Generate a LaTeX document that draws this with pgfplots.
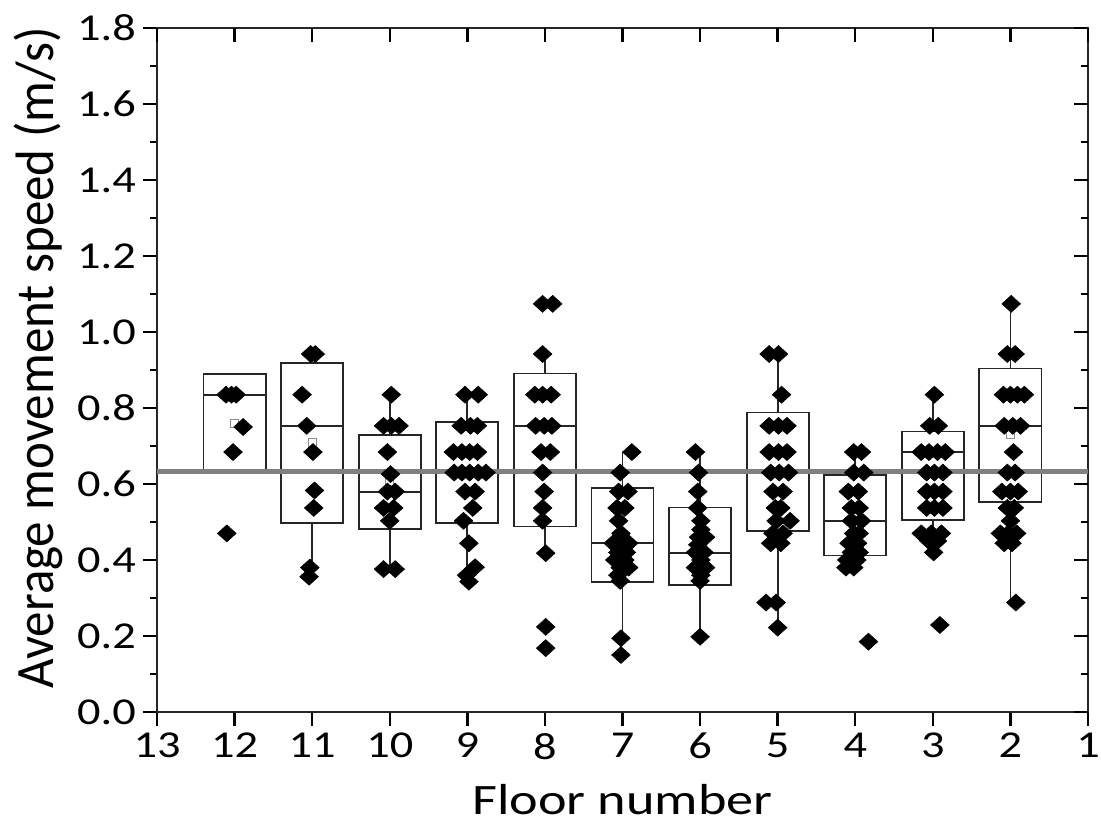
\documentclass[border=0pt]{standalone}
\usepackage{fontspec}
\setmainfont{Carlito}
\newfontfamily\widefont{Carlito}[FakeStretch=1.22]
\newfontfamily\widerfont{Carlito}[FakeStretch=1.25]
\usepackage{graphicx}
\usepackage{pgfplots}
\pgfplotsset{compat=1.18}
\usepgfplotslibrary{statistics}
\begin{document}
\begin{tikzpicture}
\pgfplotsset{
  boxst/.style={draw=black!85, line width=0.9pt, solid, mark=none},
  dia/.style={only marks, mark=square*, mark size=3.0pt, mark options={xscale=1.1, rotate=45, fill=black, draw=black, line width=0.3pt}},
}
\begin{axis}[
  scale only axis, width=465.5pt, height=342pt,
  xmin=0, xmax=12, ymin=0, ymax=1.8,
  boxplot/draw direction=y,
  xtick={0,1,2,3,4,5,6,7,8,9,10,11,12},
  xticklabels={13,12,11,10,9,8,7,6,5,4,3,2,1},
  ytick={0,0.2,0.4,0.6,0.8,1.0,1.2,1.4,1.6,1.8},
  minor y tick num=1,
  yticklabel style={/pgf/number format/.cd, fixed, fixed zerofill, precision=1},
  /pgf/number format/assume math mode=true,
  tick align=outside, xtick pos=bottom, ytick pos=left,
  major tick length=7pt, minor tick length=3.5pt,
  every tick/.style={black, line width=1.2pt},
  axis line style={line width=1.3pt, black!85},
  tick label style={font=\widefont\fontsize{19}{22}\selectfont},
  every axis x label/.style={at={(axis description cs:0.5,0)}, anchor=base, yshift=-51.5pt, font=\widerfont\fontsize{21.7}{24}\selectfont},
  every axis y label/.style={at={(axis description cs:0,0.5)}, anchor=center, xshift=-59.5pt, yshift=6pt, rotate=90, font=\fontsize{25.5}{28}\selectfont},
  xlabel={Floor number},
  ylabel={\scalebox{1}[1.06]{Average movement speed (m/s)}},
  clip=false,
]
% boxes
\addplot[boxst, boxplot prepared={draw position=1, lower whisker=0.63, lower quartile=0.63, median=0.835, upper quartile=0.889, upper whisker=0.889, box extend=0.8, whisker extend=0}] coordinates {};
\addplot[boxst, boxplot prepared={draw position=2, lower whisker=0.37, lower quartile=0.497, median=0.753, upper quartile=0.919, upper whisker=0.942, box extend=0.8, whisker extend=0}] coordinates {};
\addplot[boxst, boxplot prepared={draw position=3, lower whisker=0.376, lower quartile=0.482, median=0.578, upper quartile=0.729, upper whisker=0.835, box extend=0.8, whisker extend=0}] coordinates {};
\addplot[boxst, boxplot prepared={draw position=4, lower whisker=0.343, lower quartile=0.497, median=0.63, upper quartile=0.764, upper whisker=0.835, box extend=0.8, whisker extend=0}] coordinates {};
\addplot[boxst, boxplot prepared={draw position=5, lower whisker=0.418, lower quartile=0.488, median=0.753, upper quartile=0.891, upper whisker=0.942, box extend=0.8, whisker extend=0}] coordinates {};
\addplot[boxst, boxplot prepared={draw position=6, lower whisker=0.194, lower quartile=0.343, median=0.444, upper quartile=0.589, upper whisker=0.684, box extend=0.8, whisker extend=0}] coordinates {};
\addplot[boxst, boxplot prepared={draw position=7, lower whisker=0.198, lower quartile=0.334, median=0.419, upper quartile=0.538, upper whisker=0.684, box extend=0.8, whisker extend=0}] coordinates {};
\addplot[boxst, boxplot prepared={draw position=8, lower whisker=0.222, lower quartile=0.477, median=0.63, upper quartile=0.788, upper whisker=0.942, box extend=0.8, whisker extend=0}] coordinates {};
\addplot[boxst, boxplot prepared={draw position=9, lower whisker=0.38, lower quartile=0.412, median=0.503, upper quartile=0.624, upper whisker=0.684, box extend=0.8, whisker extend=0}] coordinates {};
\addplot[boxst, boxplot prepared={draw position=10, lower whisker=0.42, lower quartile=0.505, median=0.684, upper quartile=0.738, upper whisker=0.835, box extend=0.8, whisker extend=0}] coordinates {};
\addplot[boxst, boxplot prepared={draw position=11, lower whisker=0.288, lower quartile=0.553, median=0.753, upper quartile=0.904, upper whisker=1.074, box extend=0.8, whisker extend=0}] coordinates {};
% reference line
\addplot[black!50, line width=2.6pt, forget plot] coordinates {(0,0.632) (12,0.632)};
% means
\addplot[only marks, mark=square, mark size=2pt, mark options={draw=black!45, line width=0.5pt}] coordinates {(1.0,0.76) (2.0,0.709) (3.0,0.606) (11.0,0.729)};
% floor 12
\addplot[dia] coordinates {(0.89,0.835)(0.96,0.835)(1.02,0.835)(1.11,0.75)(0.98,0.684)(0.90,0.47)};
% floor 11
\addplot[dia] coordinates {(1.98,0.942)(2.04,0.942)(1.87,0.835)(1.93,0.753)(2.01,0.684)(2.03,0.583)(2.02,0.537)(1.97,0.38)(1.96,0.356)};
% floor 10
\addplot[dia] coordinates {(3.02,0.835)(2.92,0.753)(3.02,0.753)(3.12,0.753)(2.97,0.684)(3.01,0.626)(2.97,0.58)(3.07,0.58)(2.92,0.537)(3.05,0.537)(3.00,0.503)(2.92,0.376)(3.07,0.376)};
% floor 9
\addplot[dia] coordinates {(3.97,0.835)(4.14,0.835)(3.92,0.753)(4.04,0.753)(4.13,0.753)(3.82,0.684)(3.93,0.684)(4.03,0.684)(4.13,0.684)(3.83,0.63)(3.93,0.63)(4.03,0.63)(4.14,0.63)(4.24,0.63)(3.97,0.58)(4.10,0.58)(4.07,0.537)(3.95,0.503)(4.02,0.444)(4.10,0.381)(3.99,0.36)(4.02,0.343)};
% floor 8
\addplot[dia] coordinates {(4.97,1.074)(5.10,1.074)(4.97,0.942)(4.87,0.835)(4.97,0.835)(5.08,0.835)(4.88,0.753)(4.99,0.753)(5.09,0.753)(4.95,0.684)(5.07,0.684)(4.97,0.63)(4.99,0.58)(4.97,0.537)(4.97,0.503)(5.01,0.418)(5.01,0.224)(5.01,0.168)};
% floor 7
\addplot[dia] coordinates {(6.12,0.684)(5.97,0.63)(5.95,0.58)(6.07,0.58)(5.93,0.537)(6.03,0.537)(5.95,0.503)(5.98,0.47)(5.88,0.444)(5.98,0.444)(6.08,0.444)(5.94,0.42)(6.05,0.42)(5.90,0.40)(6.03,0.40)(5.97,0.38)(6.08,0.38)(5.94,0.36)(5.97,0.345)(5.98,0.194)(5.98,0.15)};
% floor 6
\addplot[dia] coordinates {(6.94,0.684)(6.98,0.63)(6.97,0.58)(6.97,0.537)(7.01,0.503)(7.01,0.48)(6.98,0.46)(7.07,0.46)(6.97,0.44)(6.94,0.42)(7.05,0.42)(7.01,0.40)(6.94,0.38)(7.07,0.38)(7.01,0.36)(7.00,0.345)(7.00,0.198)};
% floor 5
\addplot[dia] coordinates {(7.89,0.942)(8.01,0.942)(8.05,0.835)(7.89,0.753)(8.01,0.753)(8.12,0.753)(7.89,0.684)(8.01,0.684)(8.12,0.684)(7.91,0.63)(8.02,0.63)(8.14,0.63)(7.94,0.58)(8.07,0.58)(7.97,0.537)(8.04,0.537)(7.98,0.503)(8.16,0.503)(7.94,0.47)(8.07,0.47)(7.91,0.444)(8.04,0.444)(7.85,0.288)(7.98,0.288)(8.00,0.222)};
% floor 4
\addplot[dia] coordinates {(8.98,0.684)(9.08,0.684)(8.98,0.63)(9.11,0.63)(8.91,0.58)(9.04,0.58)(8.95,0.537)(9.05,0.537)(8.95,0.503)(9.08,0.503)(8.98,0.47)(9.05,0.47)(8.92,0.444)(9.03,0.444)(8.95,0.42)(9.05,0.42)(8.89,0.40)(9.02,0.40)(8.88,0.38)(8.98,0.38)(9.17,0.185)};
% floor 3
\addplot[dia] coordinates {(10.02,0.835)(9.96,0.753)(10.07,0.753)(9.85,0.684)(9.95,0.684)(10.06,0.684)(10.16,0.684)(9.92,0.63)(10.02,0.63)(10.13,0.63)(9.92,0.58)(10.02,0.58)(10.13,0.58)(9.92,0.537)(10.02,0.537)(10.13,0.537)(9.85,0.47)(9.98,0.47)(10.11,0.47)(9.95,0.45)(10.06,0.45)(10.01,0.42)(10.09,0.229)};
% floor 2
\addplot[dia] coordinates {(11.01,1.074)(10.96,0.942)(11.06,0.942)(10.91,0.835)(11.00,0.835)(11.09,0.835)(11.18,0.835)(10.92,0.753)(11.03,0.753)(11.13,0.753)(11.04,0.684)(10.96,0.63)(11.06,0.63)(10.89,0.58)(11.00,0.58)(11.10,0.58)(10.96,0.537)(11.05,0.537)(11.00,0.503)(10.87,0.47)(10.97,0.47)(11.08,0.47)(10.92,0.444)(11.02,0.444)(11.07,0.288)};
\coordinate (ll) at (rel axis cs:0,0);
\coordinate (ur) at (rel axis cs:1,1);
\end{axis}
\begin{axis}[
  scale only axis, width=465.5pt, height=342pt,
  xmin=0, xmax=12, ymin=0, ymax=1.8,
  xtick={0,1,2,3,4,5,6,7,8,9,10,11,12},
  ytick={0,0.2,0.4,0.6,0.8,1.0,1.2,1.4,1.6,1.8},
  minor y tick num=1,
  xticklabels={}, yticklabels={},
  tick align=inside, xtick pos=top, ytick pos=right,
  major tick length=7pt, minor tick length=3.5pt,
  every tick/.style={black, line width=1.2pt},
  axis line style={draw=none},
]
\end{axis}
\pgfresetboundingbox
\path ([shift={(-78.5pt,-57.5pt)}]ll) rectangle ([shift={(6.5pt,14pt)}]ur);
\end{tikzpicture}
\end{document}
